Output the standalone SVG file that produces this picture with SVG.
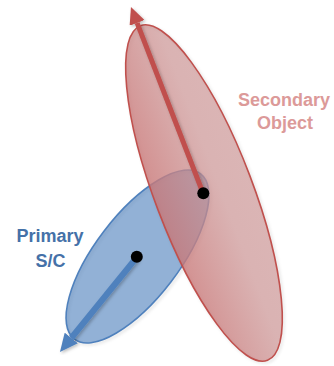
<svg xmlns="http://www.w3.org/2000/svg" width="334" height="366" viewBox="0 0 334 366">
  <defs>
    <linearGradient id="redFill" gradientUnits="userSpaceOnUse" x1="0" y1="25" x2="0" y2="362">
      <stop offset="0" stop-color="#cc9a9a" stop-opacity="0.66"/>
      <stop offset="0.45" stop-color="#ca9292" stop-opacity="0.7"/>
      <stop offset="0.7" stop-color="#c87070" stop-opacity="0.85"/>
      <stop offset="0.95" stop-color="#c0504d" stop-opacity="1"/>
    </linearGradient>
    <filter id="shadow" x="-20%" y="-20%" width="140%" height="140%">
      <feDropShadow dx="1.5" dy="1.5" stdDeviation="1.5" flood-color="#000" flood-opacity="0.25"/>
    </filter>
    <filter id="edgeShadow" x="-10%" y="-10%" width="120%" height="120%">
      <feGaussianBlur stdDeviation="1.5"/>
    </filter>
    <marker id="headRed" markerUnits="userSpaceOnUse" viewBox="0 0 17 16" refX="0" refY="8" markerWidth="17" markerHeight="16" orient="auto">
      <path d="M0,0 L17,8 L0,16 Z" fill="#c0504d"/>
    </marker>
    <marker id="headBlue" markerUnits="userSpaceOnUse" viewBox="0 0 18 17" refX="0" refY="8.5" markerWidth="18" markerHeight="17" orient="auto">
      <path d="M0,0 L18,8.5 L0,17 Z" fill="#4f81bd"/>
    </marker>
    <style>
      .lbl { font-family: "Liberation Sans", Arial, sans-serif; font-weight: bold; font-size: 18px; text-anchor: middle; }
      .red-lbl { fill: #dc9a99; }
      .blue-lbl { fill: #4571a8; }
      .dot { fill: #000; }
      .edge { fill: none; stroke: #000; stroke-opacity: 0.12; stroke-width: 2; filter: url(#edgeShadow); }
    </style>
  </defs>

  <g id="primary">
    <ellipse class="edge" cx="139" cy="258" rx="104" ry="42" transform="rotate(-52.6 139 258)"/>
    <ellipse cx="137.5" cy="256.5" rx="104" ry="42" transform="rotate(-52.6 137.5 256.5)" fill="#4f81bd" fill-opacity="0.62" stroke="#4f81bd" stroke-width="1.6"/>
  </g>

  <g id="secondary">
    <ellipse class="edge" cx="205.5" cy="194.5" rx="179" ry="49" transform="rotate(69.2 205.5 194.5)"/>
    <ellipse cx="204" cy="193" rx="179" ry="49" transform="rotate(69.2 204 193)" fill="url(#redFill)" stroke="#c0504d" stroke-width="1.6"/>
  </g>

  <g id="connectors">
    <line x1="203" y1="193" x2="137.1" y2="22.9" stroke="#c0504d" stroke-width="5" marker-end="url(#headRed)" filter="url(#shadow)"/>
    <line x1="137" y1="257" x2="71.3" y2="338" stroke="#4f81bd" stroke-width="6" marker-end="url(#headBlue)" filter="url(#shadow)"/>
  </g>

  <g id="centers">
    <circle class="dot" cx="203.3" cy="193.3" r="6"/>
    <circle class="dot" cx="136.8" cy="256.8" r="6"/>
  </g>

  <g id="label-secondary">
    <text class="lbl red-lbl" x="284" y="106">Secondary</text>
    <text class="lbl red-lbl" x="285" y="129">Object</text>
  </g>

  <g id="label-primary">
    <text class="lbl blue-lbl" x="50" y="241.5">Primary</text>
    <text class="lbl blue-lbl" x="50.5" y="266.5">S/C</text>
  </g>
</svg>
